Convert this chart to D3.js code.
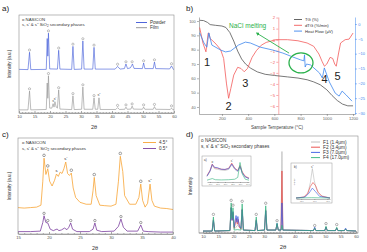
<!DOCTYPE html>
<html>
<head>
<meta charset="utf-8">
<script src="https://cdn.jsdelivr.net/npm/d3@7"></script>
<style>
  body { margin: 0; background: #fff; }
  svg { font-family: "Liberation Sans", Arial, sans-serif; }
</style>
</head>
<body>
<svg id="fig" width="367" height="252"></svg>
<script>
// ---------- panel a : XRD powder vs film ----------
var ticksA = [10, 15, 20, 25, 30, 35, 40, 45, 50, 55, 60];
var powderA = [[10,44.5],[12.9,44.3],[13.4,62],[13.8,44.3],[18.8,44.5],[19.1,76],[19.3,58],[19.5,81.5],[19.9,45],
  [22.4,44.8],[22.8,64],[23.2,44.8],[27.0,44.5],[27.4,68],[27.8,44.5],[30.2,44.8],[30.6,73.5],[31.0,44.8],
  [33.8,44.8],[34.2,67],[34.6,44.8],[41.0,44.8],[41.8,47.5],[42.6,44.8],[44.0,45.3],[44.5,50],[45.0,45.3],
  [45.9,46],[46.3,48],[46.6,50],[47.1,45.5],[49.8,45.3],[50.2,51],[50.6,45.3],[53.3,45.3],[53.7,52],[54.1,45.3],
  [58.6,45],[59.2,48],[59.8,44.5],[60,44.5]];
var filmA = [[10,3.2],[12.9,3.2],[13.4,22.4],[13.8,3.2],[18.8,3.6],[19.1,30.6],[19.3,15],[19.5,38],[19.9,5],
  [20.6,5],[21.0,9.5],[21.3,6],[21.6,11.5],[22.0,6],[22.4,5],[22.8,23.5],[23.2,4],[27.0,3.5],[27.4,17.5],[27.8,3.5],
  [30.2,3.8],[30.6,26.5],[31.0,3.8],[33.8,3.8],[34.2,15.5],[34.6,3.8],[35.4,3.8],[35.8,15.5],[36.2,3.6],
  [41.2,3.6],[41.8,5.5],[42.4,3.6],[44.1,3.8],[44.5,6],[44.9,3.8],[46.1,4],[46.5,7],[46.9,4],[49.8,3.8],[50.2,6],
  [50.6,3.8],[53.3,3.8],[53.7,6.5],[54.1,3.8],[58.8,3.6],[59.2,5],[59.6,3.4],[60,3.4]];
var oPowderA = [13.4, 19.5, 22.8, 27.4, 30.6, 34.2, 41.8, 44.5, 46.5, 50.2, 53.7, 59.2];
var oFilmA = [13.4, 19.5, 22.8, 27.4, 30.6, 34.2, 41.8, 44.5, 46.5, 50.2, 53.7, 59.2];
var sFilmA = [[21.0, "s"], [21.6, "s'"], [35.8, "s''"]];

// ---------- panel b : thermal analysis ----------
var ticksTemp = [200, 400, 600, 800, 1000, 1200];
var ticksTG = [40, 50, 60, 70, 80, 90, 100];
var ticksDTG = [-6, -5, -4, -3, -2, -1, 0, 1, 2];
var ticksHF = [0, -5, -10, -15, -20, -25, -30];
var tg = [[30,100.5],[60,100.3],[90,99],[110,97.5],[150,97],[200,96.5],[230,95.5],[260,92],[290,86],[320,79],
  [350,73.5],[380,70],[420,67],[470,64.5],[530,62.8],[600,62],[700,61],[780,60.2],[850,59],[900,57.5],[950,55.5],
  [1000,52],[1040,48],[1080,44.5],[1120,42],[1160,40.8],[1200,40.8]];
var dtg = [[30,1.1],[55,-0.3],[78,-1.1],[95,0.6],[100,0.6],[110,0.1],[125,-0.05],[155,-0.4],[190,-0.9],[213,-1.7],
  [235,-4.0],[251,-5.3],[268,-4.4],[290,-3.2],[320,-2.5],[345,-2.6],[370,-2.9],[395,-2.6],[430,-1.6],[462,-1.0],
  [500,-0.5],[537,-0.25],[612,0.0],[700,0.0],[780,-0.1],[850,-0.3],[900,-0.6],[940,-1.3],[965,-2.0],[982,-2.4],
  [1000,-2.2],[1025,-1.6],[1045,-1.7],[1060,-2.2],[1072,-2.4],[1090,-1.2],[1105,-0.3],[1140,0.0],[1170,0.05],[1200,0.6]];
var heatFlow = [[30,-3.0],[63,-6.4],[85,-7.8],[100,-3.0],[123,-7.1],[191,-8.8],[228,-9.4],[266,-9.1],[326,-7.1],
  [379,-6.1],[417,-6.4],[492,-7.8],[590,-8.8],[665,-9.8],[740,-11.1],[801,-12.1],[825,-12.4],[830,-10.4],[835,-14.5],
  [845,-13.5],[876,-13.8],[944,-16.5],[966,-18.2],[981,-14.8],[1019,-19.5],[1064,-23.3],[1094,-24.3],[1117,-22.6],
  [1147,-23.9],[1192,-26]];
var stepLabels = [["1",86,-2.0],["2",251,-6.0],["3",379,-3.9],["4",982,-3.6],["5",1082,-3.3]];

// ---------- panel c : tilt angle ----------
var ticksC = [15, 20, 25, 30, 35, 40];
var orangeC = [[15,27.5],[16,27],[17,27.5],[18,28],[18.7,30],[19.0,55],[19.2,79],[19.5,62],[19.8,68],[20.1,55],
  [20.5,50],[20.9,56],[21.2,62.5],[21.5,60],[21.8,64.5],[22.1,63],[22.4,68],[22.7,75],[23.0,63],[23.3,61],[23.6,63.5],
  [23.9,48],[24.3,38],[25,33],[26,31],[26.8,31],[27.1,45],[27.3,59],[27.6,40],[28.2,30],[29,29.5],[30,29],[30.8,31],
  [31.2,55],[31.5,81],[31.9,65],[32.2,40],[33,31],[34,31],[34.5,38],[34.8,52],[35.1,35],[35.5,28],[35.9,32],[36.3,52],
  [36.6,35],[37,29],[38,27],[39,26.5],[40,25.5]];
var purpleC = [[15,2.5],[17,2.5],[18.6,3],[19.0,12],[19.2,19],[19.5,12],[19.8,11.5],[20.2,5],[20.7,3.5],[21.3,5.2],
  [21.6,3.5],[22.0,4.2],[22.5,6.2],[22.9,4.5],[23.2,7],[23.5,11.5],[23.8,5],[24.5,2.5],[26.5,2.5],[27.1,5],[27.4,11.5],
  [27.7,4],[28.5,2.5],[30.5,3],[31.2,8],[31.6,15.6],[32.0,7],[32.6,3],[34.3,3],[34.8,9.4],[35.2,3],[36,2.5],[38,2],[40,2]];
var oOrangeC = [19.2, 19.8, 23.6, 27.3, 31.5, 34.8];
var sOrangeC = [[21.2, "s"], [22.7, "s'"], [36.3, "s''"]];
var oPurpleC = [19.2, 19.8, 23.5, 27.4, 31.6, 34.8];

// ---------- panel d : film thickness ----------
var ticksD = [10, 15, 20, 25, 30, 35, 40, 45, 50, 55, 60];
var f1 = [[10,2],[13.0,2],[13.4,14],[13.8,2],[18.8,2.5],[19.2,27],[19.5,14],[19.8,22],[20.2,4],[20.8,6],[21.3,8],
  [21.8,6],[22.4,4],[22.8,25],[23.2,3],[27.0,2.5],[27.4,14],[27.8,2.5],[30.1,3],[30.5,24],[30.9,3],[33.8,3],[34.2,9],
  [34.6,3],[35.5,3],[35.8,84],[36.1,3],[46.1,2.5],[46.5,5],[46.9,2.5],[49.8,2.5],[50.2,6],[50.6,2.5],[53.3,2.5],
  [53.7,5],[54.1,2.5],[56.2,2.5],[56.6,4],[57,2.5],[60,2]];
var f2 = [[10,2],[13.0,2],[13.4,13],[13.8,2],[18.8,2.5],[19.2,26],[19.5,13],[19.8,21],[20.2,5],[20.6,10],[20.9,15],
  [21.2,9],[21.5,14],[21.9,6],[22.4,4],[22.8,24],[23.2,3],[27.0,2.5],[27.4,13],[27.8,2.5],[30.1,3],[30.5,23],[30.9,3],
  [33.8,3],[34.2,9],[34.6,3],[35.5,3],[35.8,64],[36.1,3],[46.1,2.5],[46.5,5],[46.9,2.5],[49.8,2.5],[50.2,6],[50.6,2.5],
  [53.3,2.5],[53.7,5],[54.1,2.5],[56.2,2.5],[56.6,4],[57,2.5],[60,2]];
var f3 = [[10,2],[13.0,2],[13.4,13],[13.8,2],[18.8,2.5],[19.2,26],[19.5,13],[19.8,22],[20.2,6],[20.5,12],[20.8,18],
  [21.1,11],[21.4,17],[21.8,8],[22.4,5],[22.8,24],[23.2,3],[27.0,2.5],[27.4,13],[27.8,2.5],[30.1,3],[30.5,23],[30.9,3],
  [33.8,3],[34.2,10],[34.6,3],[35.5,3],[35.8,31],[36.1,3],[46.1,2.5],[46.5,6],[46.9,2.5],[49.8,2.5],[50.2,6],[50.6,2.5],
  [53.3,2.5],[53.7,5],[54.1,2.5],[56.2,2.5],[56.6,5],[57,2.5],[60,2]];
var f4 = [[10,2],[13.0,2],[13.4,16.5],[13.8,2],[18.8,2.5],[19.2,31],[19.5,15],[19.8,26],[20.2,3],[21.2,3.5],[22.4,3],
  [22.8,30],[23.2,3],[27.0,2.5],[27.4,16.5],[27.8,2.5],[30.1,3],[30.5,28],[30.9,3],[33.8,3],[34.2,10],[34.6,3],[35.5,3],
  [35.8,8],[36.1,3],[46.1,2.5],[46.5,5],[46.9,2.5],[49.8,2.5],[50.2,7],[50.6,2.5],[53.3,2.5],[53.7,6],[54.1,2.5],
  [56.2,2.5],[56.6,4],[57,2.5],[60,2]];
var oD = [13.4, 19.2, 19.8, 22.8, 27.4, 30.5, 34.2, 46.5, 50.2, 53.7];
var thickness = ["F1 (1.4\u03bcm)", "F2 (3.4\u03bcm)", "F3 (7.0\u03bcm)", "F4 (17.0\u03bcm)"];
// inset a) (2θ 18.6-24.2)
var iaF1 = [[18.6,25],[19.0,45],[19.3,72],[19.6,58],[20.0,55],[20.5,52],[21.0,50],[21.5,55],[21.9,75],[22.3,55],[22.7,45],[23.0,65],[23.3,40],[23.7,22],[24.2,15]];
var iaF2 = [[18.6,28],[19.0,50],[19.3,78],[19.6,62],[20.0,60],[20.5,56],[21.0,54],[21.5,60],[21.9,82],[22.3,60],[22.7,50],[23.0,72],[23.3,44],[23.7,25],[24.2,17]];
var iaF3 = [[18.6,25],[19.0,48],[19.3,76],[19.6,64],[20.0,62],[20.5,55],[21.0,55],[21.5,58],[21.9,78],[22.3,58],[22.7,48],[23.0,68],[23.3,40],[23.7,22],[24.2,15]];
var iaF4 = [[18.6,8],[19.3,15],[19.7,10],[20.5,9],[21.5,10],[22.3,12],[22.7,20],[23.0,85],[23.3,35],[23.7,12],[24.2,8]];
// inset b) (2θ 34.6-37.2)
var ibF1 = [[34.6,3],[35.2,5],[35.5,15],[35.7,50],[35.85,92],[36.0,55],[36.2,25],[36.5,10],[37.2,3]];
var ibF2 = [[34.6,3],[35.2,6],[35.5,18],[35.7,38],[35.9,50],[36.1,40],[36.3,20],[36.6,8],[37.2,3]];
var ibF3 = [[34.6,3],[35.3,6],[35.6,18],[35.85,33],[36.1,22],[36.4,8],[37.2,3]];
var ibF4 = [[34.6,3],[35.8,4],[37.2,3]];

var cPowder = "#3b55d6", cFilm = "#8f8f8f", cOrange = "#f7a436", cPurple = "#7b3f9e";
var cTG = "#555555", cDTG = "#f25a5a", cHF = "#3d86ee", cGreen = "#2bb14c";
var cF = ["#b9b9b9", "#e8433f", "#3558e3", "#2fb27a"];

var svg = d3.select("#fig");

function styleAxis(g, color, fs) {
  g.attr("font-family", null).attr("font-size", fs);
  g.select(".domain").attr("stroke", color).attr("stroke-width", 0.5);
  g.selectAll(".tick line").attr("stroke", color).attr("stroke-width", 0.5);
  g.selectAll(".tick text").attr("fill", color);
}
function topOf(series, x) {
  return d3.max(series.filter(function(d) { return Math.abs(d[0] - x) <= 0.3; }), function(d) { return d[1]; });
}
function curve(data, x, y, color, w) {
  svg.append("path").datum(data)
    .attr("d", d3.line().x(function(d) { return x(d[0]); }).y(function(d) { return y(d[1]); }))
    .attr("fill", "none").attr("stroke", color).attr("stroke-width", w).attr("stroke-linejoin", "round");
}
function circles(xs, series, x, y, color, r, off) {
  xs.forEach(function(v) {
    svg.append("circle").attr("cx", x(v)).attr("cy", y(topOf(series, v)) - off)
      .attr("r", r).attr("fill", "none").attr("stroke", color).attr("stroke-width", 0.45);
  });
}
function sLabels(list, series, x, y, color, fs, off) {
  list.forEach(function(d) {
    svg.append("text").attr("x", x(d[0])).attr("y", y(topOf(series, d[0])) - off)
      .attr("text-anchor", "middle").attr("font-size", fs).attr("fill", color).text(d[1]);
  });
}
function text(x, y, s, fs, color, anchor) {
  return svg.append("text").attr("x", x).attr("y", y).attr("font-size", fs)
    .attr("fill", color || "#222").attr("text-anchor", anchor || "start").text(s);
}
function frame(x0, y0, x1, y1, color) {
  svg.append("rect").attr("x", x0).attr("y", y0).attr("width", x1 - x0).attr("height", y1 - y0)
    .attr("fill", "none").attr("stroke", color || "#8c8c8c").attr("stroke-width", 0.6);
}
function xrdAxis(x, yPos, ticks, minorStep) {
  var lo = x.domain()[0], hi = x.domain()[1];
  var minor = d3.range(lo, hi + 0.001, minorStep).filter(function(v) { return ticks.indexOf(v) < 0; });
  svg.append("g").attr("transform", "translate(0," + yPos + ")")
    .call(d3.axisBottom(x).tickValues(minor).tickSize(-1).tickFormat(""))
    .call(function(g) { styleAxis(g, "#666", 4); g.select(".domain").remove(); });
  svg.append("g").attr("transform", "translate(0," + yPos + ")")
    .call(d3.axisBottom(x).tickValues(ticks).tickSize(-2).tickSizeOuter(0).tickPadding(1.8))
    .call(function(g) { styleAxis(g, "#555", 4.2); });
}
function secLegend(x, y, fs) {
  text(x, y, "o NASICON", fs, "#333");
  var t = text(x, y + fs * 1.25, "s, s' & s'' SiO", fs, "#333");
  t.append("tspan").attr("font-size", fs * 0.7).attr("dy", fs * 0.3).text("2");
  t.append("tspan").attr("dy", -fs * 0.3).text(" secondary phases");
}
function lineLegend(x, y, labels, colors, fs, gap, len) {
  labels.forEach(function(l, i) {
    svg.append("line").attr("x1", x).attr("x2", x + len).attr("y1", y + i * gap).attr("y2", y + i * gap)
      .attr("stroke", colors[i]).attr("stroke-width", 0.9);
    text(x + len + 3, y + i * gap + fs * 0.35, l, fs, "#333");
  });
}

// ===== panel a =====
var xa = d3.scaleLinear().domain([10, 60]).range([19, 174]);
var ya = d3.scaleLinear().domain([0, 100]).range([113, 15]);
text(2, 11, "a)", 8, "#222");
xrdAxis(xa, 113, ticksA, 1);
curve(powderA, xa, ya, cPowder, 0.6);
curve(filmA, xa, ya, cFilm, 0.6);
circles(oPowderA, powderA, xa, ya, "#777", 1.1, 2.2);
circles(oFilmA, filmA, xa, ya, "#777", 1.1, 2.2);
sLabels(sFilmA, filmA, xa, ya, "#444", 3.6, 1.5);
frame(19, 15, 174, 113);
secLegend(22, 20.5, 4.3);
lineLegend(136, 22.5, ["Powder", "Film"], [cPowder, cFilm], 4.6, 5.2, 11);
svg.append("text").attr("transform", "translate(11,64) rotate(-90)").attr("text-anchor", "middle")
  .attr("font-size", 4.5).attr("fill", "#333").text("Intensity (a.u.)");
text(94, 128.5, "2\u03b8", 5.5, "#333", "middle");

// ===== panel b =====
var xb = d3.scaleLinear().domain([25, 1215]).range([199, 355]);
var yTG = d3.scaleLinear().domain([35.1, 102.8]).range([114, 17]);
var yDTG = d3.scaleLinear().domain([-6.72, 2.05]).range([114, 17]);
var yHF = d3.scaleLinear().domain([-30.33, 2.36]).range([114, 17]);
text(186, 11, "b)", 8, "#222");
svg.append("g").attr("transform", "translate(0,114)")
  .call(d3.axisBottom(xb).tickValues(ticksTemp).tickFormat(d3.format("d")).tickSize(2).tickSizeOuter(0).tickPadding(1.5))
  .call(function(g) { styleAxis(g, "#666", 4.2); });
svg.append("g").attr("transform", "translate(199,0)")
  .call(d3.axisLeft(yTG).tickValues(ticksTG).tickSize(2).tickSizeOuter(0).tickPadding(1.2))
  .call(function(g) { styleAxis(g, "#666", 4); });
svg.append("g").attr("transform", "translate(" + xb(630) + ",0)")
  .call(d3.axisLeft(yDTG).tickValues(ticksDTG).tickSize(2).tickSizeOuter(0).tickPadding(1.2))
  .call(function(g) { styleAxis(g, cDTG, 4.2); });
svg.append("g").attr("transform", "translate(355,0)")
  .call(d3.axisRight(yHF).tickValues(ticksHF).tickSize(2).tickSizeOuter(0).tickPadding(1.2))
  .call(function(g) { styleAxis(g, cHF, 4); });
curve(tg, xb, yTG, cTG, 0.8);
curve(dtg, xb, yDTG, cDTG, 0.8);
curve(heatFlow, xb, yHF, cHF, 0.8);
stepLabels.forEach(function(d) {
  svg.append("text").attr("x", xb(d[1])).attr("y", yDTG(d[2])).attr("text-anchor", "middle")
    .attr("dominant-baseline", "central").attr("font-size", 11).attr("fill", "#222").text(d[0]);
});
// NaCl melting annotation
var defs = svg.append("defs");
defs.append("marker").attr("id", "arr").attr("viewBox", "0 0 10 10").attr("refX", 5).attr("refY", 5)
  .attr("markerWidth", 4).attr("markerHeight", 4).attr("orient", "auto-start-reverse")
  .append("path").attr("d", "M0,0L10,5L0,10z").attr("fill", cGreen);
svg.append("line").attr("x1", xb(712)).attr("y1", yHF(-9.8)).attr("x2", xb(470)).attr("y2", yHF(-3.2))
  .attr("stroke", cGreen).attr("stroke-width", 0.9).attr("marker-end", "url(#arr)");
svg.append("ellipse").attr("cx", xb(803)).attr("cy", yHF(-13.1)).attr("rx", 12).attr("ry", 10)
  .attr("fill", "none").attr("stroke", cGreen).attr("stroke-width", 1.3);
text(229, 27.5, "NaCl melting", 6.5, cGreen);
lineLegend(294, 19.5, ["TG (%)", "dTG (%/min)", "Heat Flow (\u03bcV)"], [cTG, cDTG, cHF], 4.2, 5.8, 8);
text(277, 129, "Sample Temperature (\u00b0C)", 4.6, "#444", "middle");

// ===== panel c =====
var xc = d3.scaleLinear().domain([15, 40]).range([18, 173]);
var yc = d3.scaleLinear().domain([0, 100]).range([234, 138]);
text(2, 137, "c)", 8, "#222");
xrdAxis(xc, 234, ticksC, 1);
curve(orangeC, xc, yc, cOrange, 0.8);
curve(purpleC, xc, yc, cPurple, 0.8);
circles(oOrangeC, orangeC, xc, yc, "#333", 1.3, 2.8);
sLabels(sOrangeC, orangeC, xc, yc, "#222", 4.2, 1.6);
circles(oPurpleC, purpleC, xc, yc, "#333", 1.2, 2.4);
frame(18, 138, 173, 234);
secLegend(22, 144, 4.4);
lineLegend(143, 142.5, ["4.5\u00b0", "0.5\u00b0"], [cOrange, cPurple], 4.6, 6, 13);
svg.append("text").attr("transform", "translate(11,186) rotate(-90)").attr("text-anchor", "middle")
  .attr("font-size", 4.5).attr("fill", "#333").text("Intensity (a.u.)");
text(95, 250, "2\u03b8", 5.5, "#333", "middle");

// ===== panel d =====
var xd = d3.scaleLinear().domain([10, 60]).range([203, 356]);
var yd = d3.scaleLinear().domain([0, 100]).range([233, 136]);
text(186, 137, "d)", 8, "#222");
xrdAxis(xd, 233, ticksD, 1);
[f1, f2, f3, f4].forEach(function(s, i) { curve(s, xd, yd, cF[i], 0.7); });
circles(oD, f4, xd, yd, "#555", 1.2, 2.6);
svg.append("line").attr("x1", 199).attr("x2", 358).attr("y1", 233).attr("y2", 233).attr("stroke", "#666").attr("stroke-width", 0.5);
frame(199, 136, 358, 233);
secLegend(201, 142, 4.7);
lineLegend(311, 142, thickness, cF, 4.8, 5.2, 9);
svg.append("text").attr("transform", "translate(192,186) rotate(-90)").attr("text-anchor", "middle")
  .attr("font-size", 5).attr("fill", "#333").text("Intensity");
text(283, 249, "2\u03b8", 6, "#333", "middle");

// inset a)
var xia = d3.scaleLinear().domain([18.6, 24.2]).range([207, 249]);
var yia = d3.scaleLinear().domain([0, 100]).range([182, 159]);
svg.append("rect").attr("x", 202).attr("y", 156).attr("width", 49).attr("height", 30).attr("fill", "#fff")
  .attr("stroke", "#999").attr("stroke-width", 0.5);
[iaF1, iaF2, iaF3, iaF4].forEach(function(s, i) { curve(s, xia, yia, cF[i], 0.6); });
svg.append("g").attr("transform", "translate(0,182)")
  .call(d3.axisBottom(xia).tickValues([19, 20, 21, 22, 23, 24]).tickSize(1).tickSizeOuter(0).tickPadding(0.5))
  .call(function(g) { styleAxis(g, "#777", 1.8); });
text(204, 160.5, "a)", 3, "#333");
text(xia(19.3), yia(topOf(iaF2, 19.3)) - 1.2, "o", 3, "#444", "middle");
text(xia(21.9), yia(topOf(iaF2, 21.9)) - 1.2, "s'", 3, "#444", "middle");

// inset b)
var xib = d3.scaleLinear().domain([34.6, 37.2]).range([296, 330]);
var yib = d3.scaleLinear().domain([0, 100]).range([199, 166]);
svg.append("rect").attr("x", 291).attr("y", 163).attr("width", 41).attr("height", 40).attr("fill", "#fff")
  .attr("stroke", "#999").attr("stroke-width", 0.5);
[ibF1, ibF2, ibF3, ibF4].forEach(function(s, i) { curve(s, xib, yib, cF[i], 0.6); });
svg.append("g").attr("transform", "translate(0,199)")
  .call(d3.axisBottom(xib).tickValues([35, 36, 37]).tickSize(1).tickSizeOuter(0).tickPadding(0.5))
  .call(function(g) { styleAxis(g, "#777", 1.8); });
text(294, 168, "b)", 3, "#333");
text(xib(35.85), yib(topOf(ibF1, 35.85)) - 1, "s''", 3, "#444", "middle");
svg.append("text").attr("transform", "translate(294.5,182) rotate(-90)").attr("text-anchor", "middle")
  .attr("font-size", 1.8).attr("fill", "#555").text("Intensity");
</script>
</body>
</html>
